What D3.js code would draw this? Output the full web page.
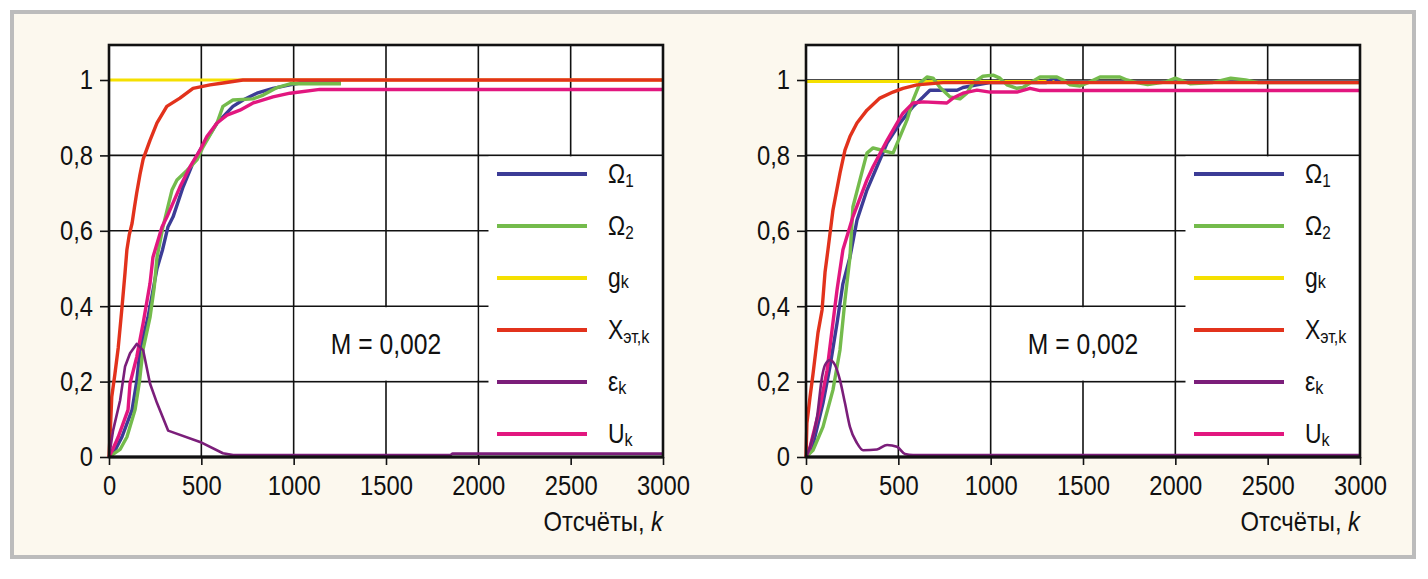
<!DOCTYPE html>
<html>
<head>
<meta charset="utf-8">
<script src="https://cdn.jsdelivr.net/npm/d3@7"></script>
<style>
body{margin:0;background:#fff;}
text{font-family:"Liberation Sans",Arial,sans-serif;fill:#111;}
</style>
</head>
<body>
<div id="chart"></div>
<script>
var w=1428
var h=579

//Tick values
var xTicks=[0,500,1000,1500,2000,2500,3000]
var yTicks=[0,0.2,0.4,0.6,0.8,1]

//Series, [k, value] - left panel
var leftOmega1=[[0,0],[35,0.02],[70,0.053],[125,0.125],[150,0.2],[168,0.284],[211,0.37],[260,0.5],[290,0.55],[319,0.61],[347,0.637],[401,0.716],[455,0.78],[493,0.814],[585,0.886],[617,0.902],[671,0.93],[726,0.947],[801,0.965],[888,0.978],[980,0.987],[1034,0.992],[1256,0.992]]
var leftOmega2=[[0,0],[60,0.02],[97,0.053],[141,0.125],[165,0.2],[184,0.284],[222,0.37],[245,0.45],[260,0.53],[292,0.61],[341,0.708],[368,0.735],[422,0.76],[476,0.788],[509,0.822],[585,0.886],[617,0.93],[671,0.947],[780,0.95],[835,0.96],[910,0.98],[980,0.99],[1256,0.99]]
var leftG=[[0,1],[3000,1]]
var leftX=[[0,0],[8,0.08],[15,0.16],[32,0.22],[50,0.29],[70,0.395],[87,0.49],[97,0.55],[110,0.59],[125,0.62],[137,0.66],[150,0.7],[168,0.75],[185,0.79],[222,0.84],[260,0.886],[313,0.93],[384,0.952],[455,0.978],[547,0.987],[617,0.992],[725,1],[3000,1]]
var leftEps=[[0,0],[22,0.07],[60,0.15],[87,0.24],[114,0.275],[150,0.3],[185,0.283],[222,0.195],[260,0.143],[320,0.07],[493,0.04],[617,0.01],[672,0.005],[1850,0.005],[1860,0.009],[3000,0.009]]
var leftU=[[0,0],[20,0.02],[50,0.053],[103,0.125],[114,0.195],[150,0.265],[185,0.355],[222,0.46],[238,0.53],[287,0.61],[314,0.637],[384,0.716],[439,0.77],[493,0.814],[530,0.85],[585,0.886],[639,0.907],[709,0.92],[780,0.939],[888,0.955],[980,0.965],[1142,0.975],[3000,0.975]]

//Right panel
var rightOmega1=[[0,0],[32,0.02],[92,0.143],[130,0.24],[168,0.355],[200,0.46],[238,0.53],[276,0.628],[330,0.708],[384,0.77],[439,0.833],[509,0.886],[580,0.93],[634,0.955],[671,0.973],[818,0.973],[850,0.98],[926,0.987],[996,0.993],[1300,0.993],[1340,1.005],[1380,0.995],[3000,0.995]]
var rightOmega2=[[0,0],[38,0.018],[92,0.08],[146,0.178],[184,0.284],[211,0.416],[238,0.53],[254,0.663],[292,0.735],[330,0.806],[363,0.82],[400,0.815],[471,0.806],[509,0.85],[547,0.894],[580,0.947],[617,0.992],[655,1.008],[688,1.005],[726,0.98],[780,0.955],[834,0.95],[871,0.965],[904,0.992],[958,1.01],[1013,1.013],[1050,1.005],[1088,0.987],[1142,0.978],[1175,0.98],[1213,0.992],[1267,1.008],[1359,1.008],[1392,1],[1430,0.987],[1484,0.984],[1538,0.995],[1592,1.008],[1700,1.008],[1738,1],[1792,0.993],[1850,0.988],[1950,0.995],[2000,1.005],[2080,0.99],[2200,0.993],[2300,1.005],[2380,1],[2450,0.993],[3000,0.993]]
var rightG=[[0,0.996],[3000,0.996]]
var rightX=[[0,0],[5,0.09],[22,0.16],[38,0.22],[65,0.33],[87,0.39],[103,0.49],[119,0.55],[146,0.655],[184,0.753],[211,0.814],[238,0.85],[276,0.886],[330,0.92],[400,0.952],[471,0.968],[525,0.978],[601,0.987],[742,0.993],[3000,0.993]]
var rightEps=[[0,0],[22,0.027],[60,0.107],[87,0.213],[103,0.244],[130,0.257],[157,0.244],[184,0.204],[211,0.143],[238,0.08],[276,0.037],[309,0.018],[384,0.02],[439,0.032],[493,0.027],[536,0.008],[580,0.005],[3000,0.005]]
var rightU=[[0,0],[22,0.027],[76,0.133],[114,0.23],[141,0.337],[168,0.443],[200,0.55],[254,0.637],[330,0.735],[363,0.77],[439,0.84],[493,0.886],[525,0.912],[580,0.939],[634,0.942],[763,0.939],[796,0.952],[850,0.965],[926,0.973],[996,0.968],[1142,0.968],[1213,0.978],[1267,0.972],[3000,0.972]]

var mLabel="M = 0,002"

var sx=0.85   //horizontal squeeze to imitate the condensed face

var svg=d3.select("#chart")
          .append("svg")
          .attr("width",w)
          .attr("height",h);

//Outer frame
svg.append("rect")
   .attr("x",12).attr("y",12)
   .attr("width",1402).attr("height",545)
   .attr("fill","#fcf8ee")
   .attr("stroke","#bcbcbc")
   .attr("stroke-width",4);

//Condensed text helper
function ctext(parent,x,y,anchor,size) {
    return parent.append("g")
                 .attr("transform","translate("+x+","+y+") scale("+sx+",1)")
                 .append("text")
                 .attr("text-anchor",anchor)
                 .style("font-size",size+"px");
}

//Legend entries
var series=[
  {key:"omega1",color:"#3c3c96",main:"\u03A9",sub:"1",subSize:18,subShift:4,width:3.4},
  {key:"omega2",color:"#74bb4c",main:"\u03A9",sub:"2",subSize:18,subShift:4,width:3.4},
  {key:"g",color:"#f5e000",main:"g",sub:"k",subSize:19,subShift:1,width:3},
  {key:"x",color:"#e2321c",main:"X",sub:"\u044D\u0442,k",subSize:19,subShift:4,width:3.4},
  {key:"eps",color:"#7b1e7a",main:"\u03B5",sub:"k",subSize:19,subShift:3,width:2.6},
  {key:"u",color:"#e2177f",main:"U",sub:"k",subSize:19,subShift:3,width:3.4}
];
//Drawing order (red drawn over green/blue)
var drawOrder=["g","omega1","omega2","u","x","eps"];

var panels=[
  {x0:109,data:{omega1:leftOmega1,omega2:leftOmega2,g:leftG,x:leftX,eps:leftEps,u:leftU},epsCurve:d3.curveLinear},
  {x0:806,data:{omega1:rightOmega1,omega2:rightOmega2,g:rightG,x:rightX,eps:rightEps,u:rightU},epsCurve:d3.curveMonotoneX}
];

var pw=554, plotTop=45, plotBottom=457;

panels.forEach(function(p) {
    var xScale=d3.scaleLinear().domain([0,3000]).range([p.x0,p.x0+pw]);
    var yScale=d3.scaleLinear().domain([0,1]).range([plotBottom,80]);
    var g=svg.append("g").attr("class","panel");

    //Plot background
    g.append("rect")
     .attr("x",p.x0).attr("y",plotTop)
     .attr("width",pw).attr("height",plotBottom-plotTop)
     .attr("fill","white");

    //Grid
    g.selectAll(".vgrid")
     .data(xTicks.slice(1,-1))
     .enter().append("line")
     .attr("x1",function(d) {return xScale(d);})
     .attr("x2",function(d) {return xScale(d);})
     .attr("y1",plotTop).attr("y2",plotBottom)
     .attr("stroke","#111").attr("stroke-width",1.6);
    g.selectAll(".hgrid")
     .data(yTicks.slice(1))
     .enter().append("line")
     .attr("x1",p.x0).attr("x2",p.x0+pw)
     .attr("y1",function(d) {return yScale(d);})
     .attr("y2",function(d) {return yScale(d);})
     .attr("stroke","#111").attr("stroke-width",1.6);

    //White legend box and M box over grid
    g.append("rect")
     .attr("x",xScale(2055)).attr("y",yScale(0.8)+1)
     .attr("width",xScale(3000)-xScale(2055)).attr("height",yScale(0)-yScale(0.8)-1)
     .attr("fill","white");
    g.append("rect")
     .attr("x",xScale(1000)+1).attr("y",yScale(0.4)+1)
     .attr("width",xScale(2000)-xScale(1000)-2).attr("height",yScale(0.2)-yScale(0.4)-2)
     .attr("fill","white");
    ctext(g,xScale(1500),yScale(0.3)+10,"middle",29).text(mLabel);

    //Series lines
    drawOrder.forEach(function(key) {
        var s=series.find(function(d) {return d.key==key;});
        var line=d3.line()
                   .x(function(d) {return xScale(d[0]);})
                   .y(function(d) {return yScale(d[1]);})
                   .curve(key=="eps" ? p.epsCurve : d3.curveLinear);
        g.append("path")
         .datum(p.data[key])
         .attr("d",line)
         .attr("fill","none")
         .attr("stroke",s.color)
         .attr("stroke-width",s.width)
         .attr("stroke-linejoin","round");
    });

    //Frame
    g.append("rect")
     .attr("x",p.x0).attr("y",plotTop)
     .attr("width",pw).attr("height",plotBottom-plotTop)
     .attr("fill","none").attr("stroke","#111").attr("stroke-width",2.6);
    g.append("line")
     .attr("x1",p.x0).attr("x2",p.x0+pw)
     .attr("y1",plotBottom).attr("y2",plotBottom)
     .attr("stroke","#111").attr("stroke-width",3.2);

    //Axes
    var xAxis=d3.axisBottom(xScale).tickValues(xTicks).tickSize(8).tickPadding(10).tickSizeOuter(0)
                .tickFormat(d3.format("d"));
    var yAxis=d3.axisLeft(yScale).tickValues(yTicks).tickSize(9).tickPadding(7)
                .tickFormat(function(d) {return String(d).replace(".",",");});
    var ax=g.append("g").attr("transform","translate(0,"+plotBottom+")").call(xAxis);
    var ay=g.append("g").attr("transform","translate("+p.x0+",0)").call(yAxis);
    [ax,ay].forEach(function(a) {
        a.select(".domain").remove();
        a.selectAll("line").attr("stroke","#111").attr("stroke-width",1.6);
        a.selectAll("text").style("font-size","28px").attr("fill","#111")
         .style("font-family","'Liberation Sans',Arial,sans-serif");
    });
    ax.selectAll("text").attr("transform","scale("+sx+",1)");
    ay.selectAll("text")
      .attr("x",-16/sx)
      .attr("transform","scale("+sx+",1)");

    //Axis label
    var lab=ctext(g,p.x0+pw,531,"end",28);
    lab.append("tspan").text("\u041E\u0442\u0441\u0447\u0451\u0442\u044B, ");
    lab.append("tspan").style("font-style","italic").text("k");

    //Legend
    series.forEach(function(s,i) {
        var ly=174+i*52;
        g.append("line")
         .attr("x1",p.x0+388).attr("x2",p.x0+478)
         .attr("y1",ly).attr("y2",ly)
         .attr("stroke",s.color).attr("stroke-width",4);
        var t=ctext(g,p.x0+499,ly+9,"start",27);
        t.append("tspan").text(s.main);
        t.append("tspan").attr("dy",s.subShift).style("font-size",s.subSize+"px").text(s.sub);
    });
});
</script>
</body>
</html>
